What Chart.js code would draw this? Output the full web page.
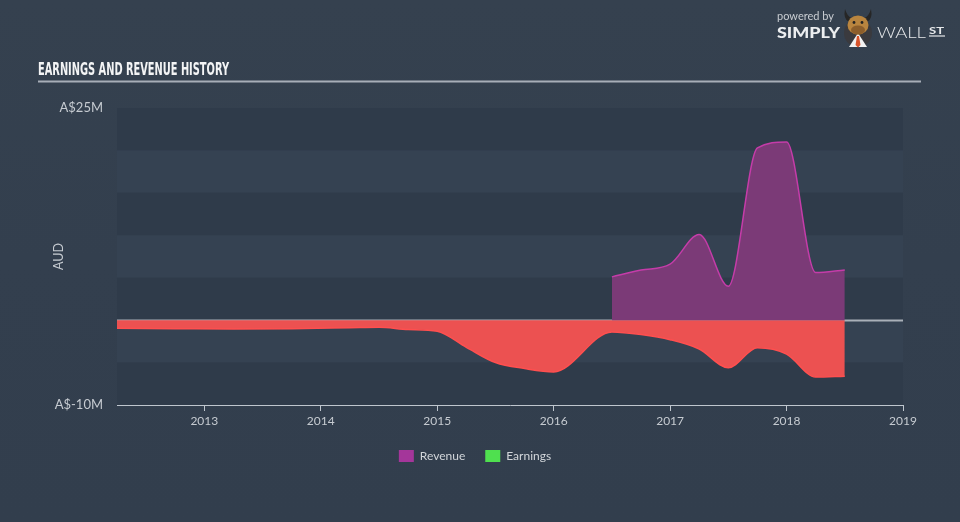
<!DOCTYPE html>
<html>
<head>
<meta charset="utf-8">
<script src="https://cdn.jsdelivr.net/npm/chart.js@4.4.1/dist/chart.umd.min.js"></script>
<style>
  html, body { margin:0; padding:0; background:#333f4e; }
  #wrap { position:relative; width:960px; height:522px; overflow:hidden;
          background:linear-gradient(180deg,#35414f 0%,#333f4e 50%,#323e4d 100%); }
  #c { position:absolute; left:0; top:0; }
  #overlay { position:absolute; left:0; top:0; pointer-events:none; }
</style>
</head>
<body>
<div id="wrap">
  <canvas id="c" width="960" height="522"></canvas>
  <svg id="overlay" width="960" height="522" xmlns="http://www.w3.org/2000/svg">
    <text x="38" y="75" font-family="Liberation Sans Narrow, DejaVu Sans Condensed, sans-serif" font-weight="bold" font-size="18.5" fill="#f3f4f5" textLength="191" lengthAdjust="spacingAndGlyphs">EARNINGS AND REVENUE HISTORY</text>
    <line x1="38" y1="81.5" x2="921" y2="81.5" stroke="#a7aeb8" stroke-width="2"/>
    <!-- logo -->
    <text x="777" y="20" font-family="Lato, sans-serif" font-size="11" fill="#c9cdd2" textLength="57" lengthAdjust="spacingAndGlyphs">powered by</text>
    <text x="777" y="37.5" font-family="Lato, sans-serif" font-weight="900" font-size="15" fill="#eceef0" textLength="63" lengthAdjust="spacingAndGlyphs">SIMPLY</text>
    <g>
      <circle cx="858" cy="33" r="14" fill="#3a3a3e"/>
      <path d="M849 47 L858 33 L867 47 Z" fill="#f2f2f2"/>
      <path d="M857 36 L859 36 L860.5 45 L858 47.5 L855.5 45 Z" fill="#d9542b"/>
      <path d="M845 9 Q843 19 849 22 L851.5 18 Q847 16 845 9 Z" fill="#262626"/>
      <path d="M871 9 Q873 19 867 22 L864.5 18 Q869 16 871 9 Z" fill="#262626"/>
      <ellipse cx="858" cy="25" rx="10.5" ry="9.5" fill="#b9853f"/>
      <ellipse cx="858" cy="30" rx="7" ry="4.5" fill="#8c5e2b"/>
      <circle cx="854" cy="22.5" r="1.4" fill="#222"/>
      <circle cx="862" cy="22.5" r="1.4" fill="#222"/>
    </g>
    <text x="877" y="37.5" font-family="Lato, sans-serif" font-weight="300" font-size="15" fill="#e6e8ea" textLength="49" lengthAdjust="spacingAndGlyphs">WALL</text>
    <text x="929" y="33.5" font-family="Lato, sans-serif" font-weight="700" font-size="8.5" fill="#e6e8ea" textLength="15" lengthAdjust="spacingAndGlyphs">ST</text>
    <line x1="929" y1="36" x2="945" y2="36" stroke="#e6e8ea" stroke-width="1.2"/>
  </svg>
</div>
<script>
// ---- data (values in A$ millions, dates as decimal years) ----
const xTickYears = [2013, 2014, 2015, 2016, 2017, 2018, 2019];
const yTickValues = [-10, 25];

const revenueDates  = [2016.5, 2016.75, 2017.0, 2017.25, 2017.5, 2017.75, 2018.0, 2018.25, 2018.5];
const revenueValues = [5.1,    5.9,     6.6,    10.1,    4.0,    20.3,    21.0,   5.6,     5.9];

const earningsDates  = [2012.25, 2012.75, 2013.25, 2013.75, 2014.25, 2014.5, 2014.75, 2015.0, 2015.25, 2015.5, 2015.75, 2016.0, 2016.5, 2016.75, 2017.0, 2017.25, 2017.5, 2017.75, 2018.0, 2018.25, 2018.5];
const earningsValues = [-0.95,   -1.0,    -1.05,   -1.0,    -0.9,    -0.85,  -1.1,    -1.3,   -3.2,    -5.0,   -5.7,    -6.1,   -1.4,   -1.7,    -2.3,   -3.4,    -5.6,   -3.25,   -4.0,   -6.7,    -6.6];

const seriesNames = ['Revenue', 'Earnings'];

// ---- plugins ----
const bandsPlugin = {
  id: 'bands',
  beforeDraw(chart) {
    const {ctx, chartArea, scales: {y}} = chart;
    ctx.save();
    let i = 0;
    for (let v = y.max; v > y.min; v -= 5, i++) {
      const top = y.getPixelForValue(v);
      const bot = y.getPixelForValue(v - 5);
      ctx.fillStyle = (i % 2 === 0) ? '#2f3b4a' : '#354252';
      ctx.fillRect(chartArea.left, top, chartArea.right - chartArea.left, bot - top);
    }
    ctx.restore();
  },
  beforeDatasetsDraw(chart) {
    const {ctx, chartArea, scales: {y}} = chart;
    const z = Math.round(y.getPixelForValue(0)) + 0.5;
    ctx.save();
    ctx.strokeStyle = '#a9b0b8';
    ctx.lineWidth = 2;
    ctx.beginPath();
    ctx.moveTo(chartArea.left, z);
    ctx.lineTo(chartArea.right, z);
    ctx.stroke();
    ctx.restore();
  }
};

const legendShift = {
  id: 'legendShift',
  afterLayout(chart) {
    const lg = chart.legend;
    if (lg) { lg.left += 23.5; lg.right += 23.5; }
  }
};

const toPoints = (xs, ys) => xs.map((d, i) => ({x: d, y: ys[i]}));

new Chart(document.getElementById('c'), {
  type: 'line',
  data: {
    datasets: [
      {
        label: seriesNames[0],
        data: toPoints(revenueDates, revenueValues),
        borderColor: '#c53ca9',
        backgroundColor: '#7b3a77',
        borderWidth: 1.5,
        fill: 'origin',
        pointRadius: 0,
        cubicInterpolationMode: 'monotone'
      },
      {
        label: seriesNames[1],
        data: toPoints(earningsDates, earningsValues),
        borderColor: '#ff4f4f',
        backgroundColor: '#ec5151',
        borderWidth: 1.5,
        fill: 'origin',
        pointRadius: 0,
        cubicInterpolationMode: 'monotone'
      }
    ]
  },
  options: {
    responsive: false,
    animation: false,
    devicePixelRatio: 1,
    layout: { padding: { top: 108, right: 57, bottom: 50, left: 0 } },
    plugins: {
      tooltip: { enabled: false },
      legend: {
        position: 'bottom',
        labels: {
          boxWidth: 15,
          boxHeight: 12,
          padding: 20,
          color: '#d2d6da',
          font: { family: 'Lato', size: 12 },
          generateLabels: () => [
            { text: seriesNames[0], fillStyle: '#a4369a', strokeStyle: '#a4369a', lineWidth: 0, hidden: false, datasetIndex: 0, fontColor: '#d2d6da' },
            { text: seriesNames[1], fillStyle: '#4fe04f', strokeStyle: '#4fe04f', lineWidth: 0, hidden: false, datasetIndex: 1, fontColor: '#d2d6da' }
          ]
        }
      }
    },
    scales: {
      x: {
        type: 'linear',
        min: 2012.25,
        max: 2019,
        afterBuildTicks: s => { s.ticks = xTickYears.map(v => ({ value: v })); },
        afterFit: s => { s.height = 25; },
        ticks: {
          callback: v => String(v),
          color: '#c6cbd1',
          font: { family: 'Lato', size: 12 },
          padding: 3,
          maxRotation: 0,
          autoSkip: false
        },
        grid: { drawOnChartArea: false, drawTicks: true, tickLength: 6, color: '#bfc6ce' },
        border: { display: true, color: '#bfc6ce', width: 1 }
      },
      y: {
        min: -10,
        max: 25,
        afterBuildTicks: s => { s.ticks = yTickValues.map(v => ({ value: v })); },
        afterFit: s => { s.width = 117; },
        ticks: {
          callback: v => 'A$' + v + 'M',
          color: '#c6cbd1',
          font: { family: 'Lato', size: 13 },
          padding: 14
        },
        grid: { display: false, drawTicks: false },
        border: { display: false },
        title: {
          display: true,
          text: 'AUD',
          color: '#c6cbd1',
          font: { family: 'Lato', size: 12.5 },
          padding: { top: 51, bottom: 0 }
        }
      }
    }
  },
  plugins: [bandsPlugin, legendShift]
});
</script>
</body>
</html>
